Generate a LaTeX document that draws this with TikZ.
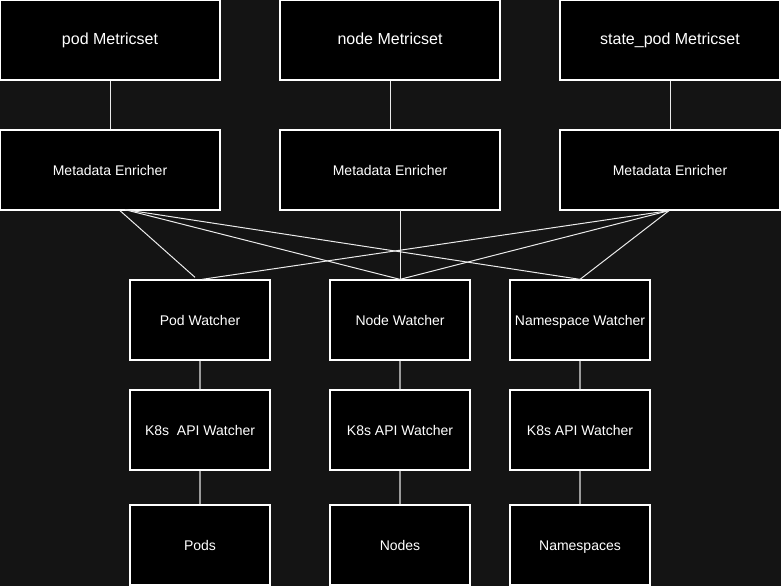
\documentclass[tikz,border=0pt]{standalone}
\usepackage{fontspec}
\setmainfont{Liberation Sans}
\usetikzlibrary{calc}
\definecolor{bgc}{HTML}{141414}
\definecolor{lowc}{HTML}{9A9A9A}
\begin{document}
\begin{tikzpicture}[x=1pt,y=-1pt,
  box/.style={draw=white, line width=1.3pt, fill=black, text=white, inner sep=0pt,
    font=\fontsize{14}{16}\selectfont, text height=10pt, text depth=0pt},
  wide/.style={box, minimum width=220pt, minimum height=80pt},
  narrow/.style={box, minimum width=140pt, minimum height=80pt},
  big/.style={font=\fontsize{16}{18}\selectfont, text height=11.5pt, text depth=1.5pt},
  link/.style={draw=white!92!black, line width=1pt},
  lowlink/.style={draw=lowc, line width=1.2pt}]
\fill[bgc] (0,0) rectangle (781,586);
\useasboundingbox (0,0) rectangle (781,586);
% top row
\node[wide,big] (m1) at (110,40) {pod Metricset};
\node[wide,big] (m2) at (390,40) {node Metricset};
\node[wide,big] (m3) at (670,40) {state\_pod Metricset};
% enrichers
\node[wide] (e1) at (110,170) {Metadata Enricher};
\node[wide] (e2) at (390,170) {Metadata Enricher};
\node[wide] (e3) at (670,170) {Metadata Enricher};
% watchers
\node[narrow] (w1) at (200,320) {Pod Watcher};
\node[narrow] (w2) at (400,320) {Node Watcher};
\node[narrow] (w3) at (580,320) {Namespace Watcher};
% k8s
\node[narrow] (k1) at (200,430) {K8s\ \ API Watcher};
\node[narrow] (k2) at (400,430) {K8s API Watcher};
\node[narrow] (k3) at (580,430) {K8s API Watcher};
% resources
\node[narrow] (r1) at (200,545) {Pods};
\node[narrow] (r2) at (400,545) {Nodes};
\node[narrow] (r3) at (580,545) {Namespaces};
% connection points
\coordinate (l1) at ($(e1.south)+(15,-1)$);
\coordinate (l2) at ($(e1.south)+(10,0)$);
\coordinate (rr) at ($(e3.south)+(-1,0)$);
\coordinate (mm) at ($(e2.south)+(10,-1)$);
\coordinate (p1) at ($(w1.north)+(-5,-2)$);
\coordinate (p2) at ($(w1.north)+(2,0)$);
\draw[link] (m1.south) -- (e1.north);
\draw[link] (m2.south) -- (e2.north);
\draw[link] (m3.south) -- (e3.north);
\draw[link] (l2) -- (p1);
\draw[link] (l1) -- (w2.north);
\draw[link] (l1) -- (w3.north);
\draw[link] (rr) -- (p2);
\draw[link] (rr) -- (w2.north);
\draw[link] (rr) -- (w3.north);
\draw[link] (mm) -- (w2.north);
\draw[lowlink] (w1.south) -- (k1.north);
\draw[lowlink] (w2.south) -- (k2.north);
\draw[lowlink] (w3.south) -- (k3.north);
\draw[lowlink] (k1.south) -- (r1.north);
\draw[lowlink] (k2.south) -- (r2.north);
\draw[lowlink] (k3.south) -- (r3.north);
\end{tikzpicture}
\end{document}
